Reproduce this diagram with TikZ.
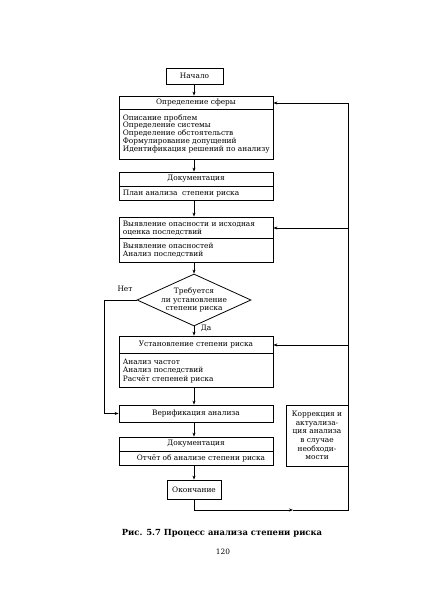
\documentclass[tikz,border=0pt]{standalone}
\usepackage{fontspec}
\setmainfont{DejaVu Serif}
\usetikzlibrary{shapes.geometric,arrows.meta}
\begin{document}
\begin{tikzpicture}[x=1pt,y=-1pt,
  box/.style={draw, line width=0.8pt, minimum width=154pt, inner sep=0pt},
  txt/.style={font=\fontsize{7.4}{8.3}\selectfont, inner sep=0pt},
  tight/.style={font=\fontsize{7.4}{7.75}\selectfont, inner sep=0pt},
  arr/.style={-{Stealth[length=4pt,width=3pt]}, line width=0.8pt},
  ln/.style={line width=0.8pt}]
\useasboundingbox (0,0) rectangle (436,600);
\coordinate (axis) at (194,0);
% start
\node[box, minimum width=57pt, minimum height=16pt, txt] (start) at (194.5,76) {Начало};
% definition of scope
\node[box, minimum height=63pt] (def) at (196,127.5) {};
\draw[ln] ([yshift=-14pt]def.north west) -- ([yshift=-14pt]def.north east);
\node[txt] (defh) at ([yshift=-7pt]def.north) {Определение сферы};
\node[tight, anchor=west, align=left] (defb) at ([xshift=4pt]def.west |- 0,133.5) {Описание проблем\\Определение системы\\Определение обстоятельств\\Формулирование допущений\\Идентификация решений по анализу};
% documentation 1
\node[box, minimum height=28pt] (doc1) at (196,186) {};
\draw[ln] ([yshift=-15pt]doc1.north west) -- ([yshift=-15pt]doc1.north east);
\node[txt] (doc1h) at ([yshift=-7.5pt]doc1.north) {Документация};
\node[txt, anchor=west] (doc1b) at ([xshift=4pt]doc1.west |- 0,193.5) {План анализа \ степени риска};
% hazard identification
\node[box, minimum height=45pt] (haz) at (196,239.5) {};
\draw[ln] ([yshift=-22pt]haz.north west) -- ([yshift=-22pt]haz.north east);
\node[txt, anchor=west, align=left] (hazh) at ([xshift=4pt]haz.west |- 0,228) {Выявление опасности и исходная\\оценка последствий};
\node[txt, anchor=west, align=left] (hazb) at ([xshift=4pt]haz.west |- 0,250.5) {Выявление опасностей\\Анализ последствий};
% decision
\node[draw, diamond, aspect=2.2, minimum width=114pt, minimum height=52pt, inner sep=0pt, line width=0.8pt] (dec) at (194,300) {};
\node[txt, align=center] (dect) at (194,300) {Требуется\\ли установление\\степени риска};
\node[txt] (no) at (125,289) {Нет};
\node[txt] (yes) at (206,328) {Да};
% estimation
\node[box, minimum height=51pt] (est) at (196,361.5) {};
\draw[ln] ([yshift=-18pt]est.north west) -- ([yshift=-18pt]est.north east);
\node[txt] (esth) at ([yshift=-9pt]est.north) {Установление степени риска};
\node[txt, anchor=west, align=left] (estb) at ([xshift=4pt]est.west |- 0,371) {Анализ частот\\Анализ последствий\\Расчёт степеней риска};
% verification
\node[box, minimum height=17pt, txt] (ver) at (196,413.5) {Верификация анализа};
% documentation 2
\node[box, minimum height=28pt] (doc2) at (196,451) {};
\draw[ln] ([yshift=-15pt]doc2.north west) -- ([yshift=-15pt]doc2.north east);
\node[txt] (doc2h) at ([yshift=-7.5pt]doc2.north) {Документация};
\node[txt] (doc2b) at (201,458.5) {Отчёт об анализе степени риска};
% end
\node[box, minimum width=54pt, minimum height=19pt, txt] (end) at (194,489.5) {Окончание};
% correction
\node[box, minimum width=62pt, minimum height=61pt, align=center, font=\fontsize{7.4}{8.6}\selectfont] (corr) at (317,435.5) {Коррекция и\\актуализа-\\ция анализа\\в случае\\необходи-\\мости};
% main flow
\draw[arr] (start.south -| axis) -- (def.north -| axis);
\draw[arr] (def.south -| axis) -- (doc1.north -| axis);
\draw[arr] (doc1.south -| axis) -- (haz.north -| axis);
\draw[arr] (haz.south -| axis) -- (dec.north);
\draw[arr] (dec.south) -- (est.north -| axis);
\draw[arr] (est.south -| axis) -- (ver.north -| axis);
\draw[arr] (ver.south -| axis) -- (doc2.north -| axis);
\draw[arr] (doc2.south -| axis) -- (end.north -| axis);
% no branch
\coordinate (lp) at (104,300);
\draw[arr] (dec.west) -- (lp) |- (ver.west);
% feedback loop
\coordinate (bm) at (293,510);
\coordinate (fb0) at (348,510);
\coordinate (fbtop) at (348,103);
\coordinate (fb1) at (348,228);
\coordinate (fb2) at (348,345);
\draw[arr] (end.south) |- (bm);
\draw[ln] (bm) -- (fb0) -- (fbtop);
\draw[arr] (fbtop) -- (def.east |- fbtop);
\draw[arr] (fb1) -- (haz.east |- fb1);
\draw[arr] (fb2) -- (est.east |- fb2);
% caption
\node[font=\bfseries\fontsize{8.4}{9}\selectfont, inner sep=0pt] (cap) at (222,533) {Рис. 5.7 Процесс анализа степени риска};
\node[font=\fontsize{7.4}{8}\selectfont, inner sep=0pt] (pg) at (223,552) {120};
\end{tikzpicture}
\end{document}
